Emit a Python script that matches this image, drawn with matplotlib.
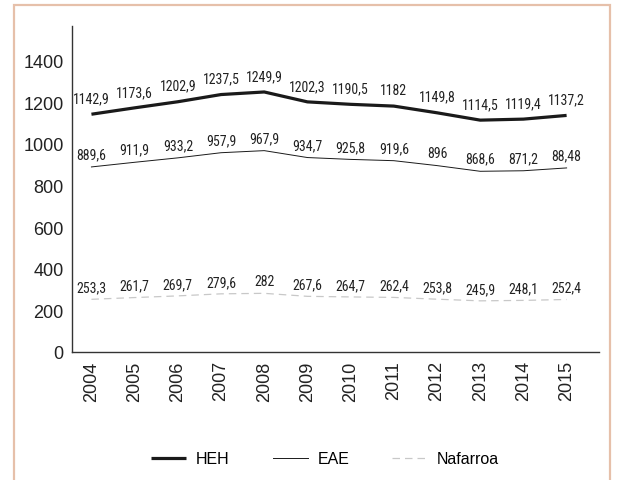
import matplotlib
matplotlib.use("Agg")
import matplotlib.pyplot as plt
from matplotlib.patches import Rectangle

years = [2004, 2005, 2006, 2007, 2008, 2009, 2010, 2011, 2012, 2013, 2014, 2015]
heh = [1142.9, 1173.6, 1202.9, 1237.5, 1249.9, 1202.3, 1190.5, 1182, 1149.8, 1114.5, 1119.4, 1137.2]
eae = [889.6, 911.9, 933.2, 957.9, 967.9, 934.7, 925.8, 919.6, 896, 868.6, 871.2, 884.8]
nafarroa = [253.3, 261.7, 269.7, 279.6, 282, 267.6, 264.7, 262.4, 253.8, 245.9, 248.1, 252.4]
# the source prints the last EAE value as "88,48"
eae_labels = ["889,6", "911,9", "933,2", "957,9", "967,9", "934,7", "925,8", "919,6", "896", "868,6", "871,2", "88,48"]
yticks = [0, 200, 400, 600, 800, 1000, 1200, 1400]

plt.rcParams['font.family'] = ['Liberation Sans', 'DejaVu Sans']
narrow = ['Roboto Condensed', 'Liberation Sans', 'DejaVu Sans']


def fmt(v):
    return f"{v:g}".replace('.', ',')


fig = plt.figure(figsize=(6.17, 4.81), dpi=100)
ax = fig.add_axes([72/617, 1-353/481, (599-72)/617, (353-27)/481])

ax.plot(years, heh, color='#1a1a1a', lw=2.3, label='HEH', solid_capstyle='butt')
ax.plot(years, eae, color='#1a1a1a', lw=0.7, label='EAE')
ax.plot(years, nafarroa, color='#c8c8c8', lw=0.9, ls=(0, (6, 4)), label='Nafarroa')

for x, v in zip(years, heh):
    ax.annotate(fmt(v), (x, v), xytext=(0, 6.5), textcoords='offset points',
                ha='center', va='bottom', fontsize=10, family=narrow, color='#222222')
for x, v, t in zip(years, eae, eae_labels):
    ax.annotate(t, (x, v), xytext=(0, 4), textcoords='offset points',
                ha='center', va='bottom', fontsize=10, family=narrow, color='#222222')
for x, v in zip(years, nafarroa):
    ax.annotate(fmt(v), (x, v), xytext=(0, 3.5), textcoords='offset points',
                ha='center', va='bottom', fontsize=10, family=narrow, color='#222222')

ax.set_xlim(2003.55, 2015.75)
ax.set_ylim(0, 1567)
ax.set_yticks(yticks)
ax.set_xticks(years)
ax.set_xticklabels([str(y) for y in years], rotation=90)
ax.tick_params(length=0, labelsize=13, colors='#222222', pad=6)
for s in ['top', 'right']:
    ax.spines[s].set_visible(False)
for s in ['left', 'bottom']:
    ax.spines[s].set_color('#333333')
    ax.spines[s].set_linewidth(1.0)

fig.legend(loc='center', bbox_to_anchor=(0.527, 1-460/481), ncol=3, frameon=False,
           fontsize=11.5, handlelength=2.2, columnspacing=2.7, handletextpad=0.6)

frame = Rectangle((14/617, -0.2), (610-14)/617, 1.2 - 6/481, transform=fig.transFigure,
                  fill=False, edgecolor='#e6c0aa', lw=1.6, clip_on=False)
fig.add_artist(frame)

fig.savefig('out.png', dpi=100)
